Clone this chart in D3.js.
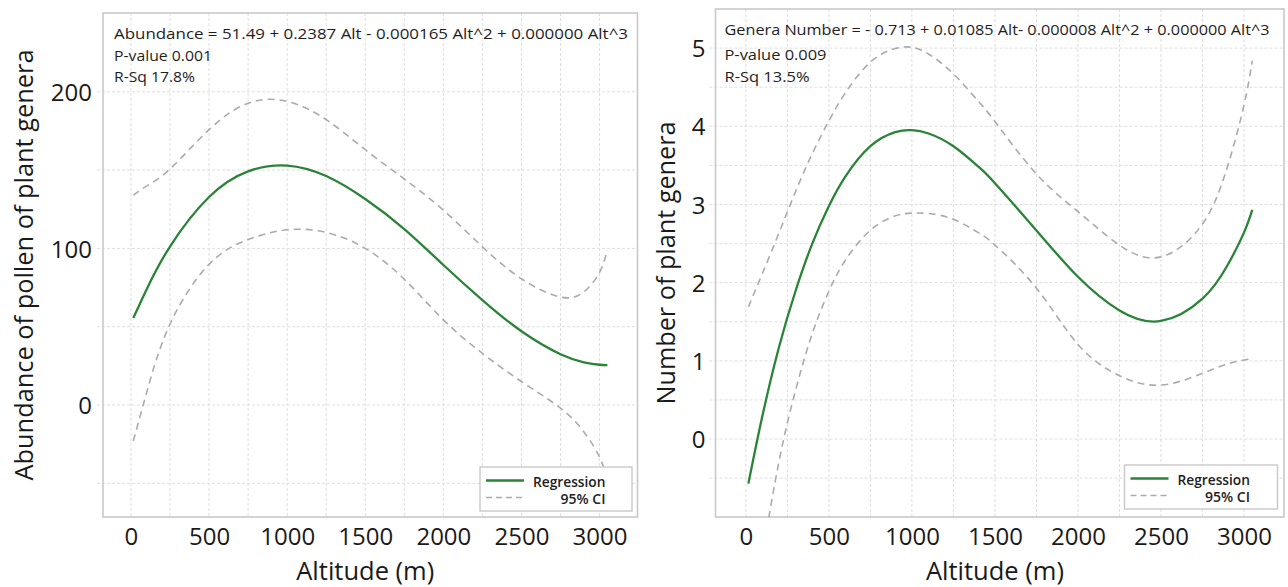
<!DOCTYPE html>
<html>
<head>
<meta charset="utf-8">
<script src="https://cdn.jsdelivr.net/npm/d3@7"></script>
<style>
  html, body { margin: 0; padding: 0; background: #fff; }
  svg { display: block; }
  text { font-family: "Open Sans", "DejaVu Sans", sans-serif; }
</style>
</head>
<body>
<svg id="chart" width="1288" height="587"></svg>
<script>
// ---------- DATA ----------
const leftAlt   = [15, 100, 250, 500, 750, 1000, 1250, 1500, 1750, 2000, 2250, 2500, 2750, 2900, 3000, 3050];
const leftReg   = [55.5, 73.8, 101.2, 132.8, 149.2, 152.9, 146.2, 131.5, 112.3, 89.4, 67, 47.1, 32.4, 27.3, 25.7, 25.5];
const leftUpper = [134, 139.8, 150.7, 175.8, 192.7, 193.9, 182.2, 163, 144.3, 124.4, 101, 80.6, 68.9, 72.3, 84.7, 99];
const leftLower = [-23, 7.8, 51.7, 89.8, 105.7, 111.9, 110.2, 100, 80.3, 54.4, 33, 15, -2, -17.2, -33.3, -48];

const rightAlt   = [15, 100, 200, 300, 400, 500, 600, 750, 900, 1000, 1100, 1250, 1400, 1500, 1750, 2000, 2250, 2500, 2750, 2900, 3000, 3050];
const rightReg   = [-0.57, 0.30, 1.18, 1.90, 2.50, 2.98, 3.36, 3.745, 3.925, 3.95, 3.908, 3.745, 3.484, 3.272, 2.668, 2.075, 1.645, 1.51, 1.795, 2.22, 2.64, 2.93];
const rightUpper = [1.69, 2.12, 2.64, 3.17, 3.65, 4.07, 4.43, 4.82, 4.995, 5.01, 4.925, 4.67, 4.32, 4.06, 3.39, 2.91, 2.48, 2.33, 2.75, 3.48, 4.27, 4.84];
const rightLower = [-2.83, -1.52, -0.28, 0.63, 1.35, 1.89, 2.29, 2.67, 2.855, 2.89, 2.885, 2.81, 2.64, 2.48, 1.93, 1.21, 0.81, 0.69, 0.84, 0.96, 1.01, 1.03];

const xTicks      = [0, 500, 1000, 1500, 2000, 2500, 3000];
const xGrid       = [0, 250, 500, 750, 1000, 1250, 1500, 1750, 2000, 2250, 2500, 2750, 3000];
const leftYTicks  = [0, 100, 200];
const leftYGrid   = [-50, 0, 50, 100, 150, 200];
const rightYTicks = [0, 1, 2, 3, 4, 5];
const rightYGrid  = [-0.5, 0, 0.5, 1, 1.5, 2, 2.5, 3, 3.5, 4, 4.5, 5];

const xTitle = "Altitude (m)";
const leftYTitle = "Abundance of pollen of plant genera";
const rightYTitle = "Number of plant genera";
const leftNotes = ["Abundance = 51.49 + 0.2387 Alt - 0.000165 Alt^2 + 0.000000 Alt^3", "P-value 0.001", "R-Sq 17.8%"];
const rightNotes = ["Genera Number = - 0.713 + 0.01085 Alt- 0.000008 Alt^2 + 0.000000 Alt^3", "P-value 0.009", "R-Sq 13.5%"];
const legendLabels = ["Regression", "95% CI"];

// ---------- DRAW ----------
const svg = d3.select("#chart");
const GREEN = "#2a8438";
const GRAY = "#ababab";

function panel(cfg) {
  const g = svg.append("g");
  const x = d3.scaleLinear().domain(cfg.xDomain).range([cfg.left, cfg.right]);
  const y = d3.scaleLinear().domain(cfg.yDomain).range([cfg.bottom, cfg.top]);
  const id = "clip" + cfg.name;
  svg.append("defs").append("clipPath").attr("id", id)
    .append("rect").attr("x", cfg.left).attr("y", cfg.top)
    .attr("width", cfg.right - cfg.left).attr("height", cfg.bottom - cfg.top);

  // grid
  g.append("g").selectAll("line").data(cfg.yGrid).join("line")
    .attr("x1", cfg.left - 6).attr("x2", cfg.right)
    .attr("y1", d => y(d)).attr("y2", d => y(d))
    .attr("stroke", "#dedede").attr("stroke-width", 1).attr("stroke-dasharray", "3,2");
  g.append("g").selectAll("line").data(xGrid).join("line")
    .attr("y1", cfg.top).attr("y2", cfg.bottom)
    .attr("x1", d => x(d)).attr("x2", d => x(d))
    .attr("stroke", "#dedede").attr("stroke-width", 1).attr("stroke-dasharray", "3,2");

  // axes via d3 axis (labels only)
  const xAxis = g.append("g").attr("transform", `translate(0,${cfg.bottom})`)
    .call(d3.axisBottom(x).tickValues(xTicks).tickSize(0).tickPadding(11).tickFormat(d3.format("d")));
  const yAxis = g.append("g").attr("transform", `translate(${cfg.left},0)`)
    .call(d3.axisLeft(y).tickValues(cfg.yTicks).tickSize(0).tickPadding(cfg.yPad).tickFormat(d3.format("d")));
  [xAxis, yAxis].forEach(a => {
    a.select(".domain").remove();
    a.selectAll("text").attr("font-size", 24).attr("fill", "#1a1a1a")
      .attr("font-family", "'Open Sans', sans-serif");
  });
  yAxis.selectAll("text").attr("dy", "0.36em");

  // frame
  g.append("rect").attr("x", cfg.left).attr("y", cfg.top)
    .attr("width", cfg.right - cfg.left).attr("height", cfg.bottom - cfg.top)
    .attr("fill", "none").attr("stroke", "#c9c9c9").attr("stroke-width", 1.6);

  // curves
  const line = d3.line().x(d => x(d[0])).y(d => y(d[1])).curve(d3.curveNatural);
  const curves = g.append("g").attr("clip-path", `url(#${id})`);
  curves.append("path").datum(d3.zip(cfg.alt, cfg.upper)).attr("d", line)
    .attr("fill", "none").attr("stroke", GRAY).attr("stroke-width", 1.6).attr("stroke-dasharray", "7,5");
  curves.append("path").datum(d3.zip(cfg.alt, cfg.lower)).attr("d", line)
    .attr("fill", "none").attr("stroke", GRAY).attr("stroke-width", 1.6).attr("stroke-dasharray", "7,5");
  curves.append("path").datum(d3.zip(cfg.alt, cfg.reg)).attr("d", line)
    .attr("fill", "none").attr("stroke", GREEN).attr("stroke-width", 2.3);

  // notes
  cfg.notes.forEach((t, i) => {
    g.append("text").attr("x", cfg.noteX).attr("y", cfg.noteY[i])
      .attr("font-size", 14.5).attr("fill", "#1e1e1e")
      .attr("textLength", cfg.noteW[i]).attr("lengthAdjust", "spacingAndGlyphs")
      .text(t);
  });

  // legend
  const L = cfg.legend;
  const lg = g.append("g");
  lg.append("rect").attr("x", L.x).attr("y", L.y).attr("width", L.w).attr("height", L.h)
    .attr("fill", "#fff").attr("stroke", "#c9c9c9").attr("stroke-width", 1.4);
  lg.append("line").attr("x1", L.x + 6).attr("x2", L.x + 44).attr("y1", L.y + 13.5).attr("y2", L.y + 13.5)
    .attr("stroke", GREEN).attr("stroke-width", 2.3);
  lg.append("line").attr("x1", L.x + 6).attr("x2", L.x + 44).attr("y1", L.y + 30.5).attr("y2", L.y + 30.5)
    .attr("stroke", GRAY).attr("stroke-width", 1.6).attr("stroke-dasharray", "6,4");
  lg.append("text").attr("x", L.x + 53).attr("y", L.y + 20)
    .attr("font-size", 13.5).attr("font-weight", 600).attr("fill", "#222")
    .attr("textLength", 72.5).attr("lengthAdjust", "spacingAndGlyphs").text(legendLabels[0]);
  lg.append("text").attr("x", L.x + 125.5).attr("y", L.y + 36.5).attr("text-anchor", "end")
    .attr("font-size", 13.5).attr("font-weight", 600).attr("fill", "#222")
    .attr("textLength", 45).attr("lengthAdjust", "spacingAndGlyphs").text(legendLabels[1]);

  // axis titles
  g.append("text").attr("x", (x(0) + x(3000)) / 2).attr("y", 580).attr("text-anchor", "middle")
    .attr("font-size", 25.5).attr("fill", "#1a1a1a").text(xTitle);
  g.append("text").attr("transform", `translate(${cfg.yTitleX},${cfg.yTitleY}) rotate(-90)`)
    .attr("text-anchor", "middle").attr("font-size", 25.5).attr("fill", "#1a1a1a")
    .attr("textLength", cfg.yTitleW).attr("lengthAdjust", "spacingAndGlyphs")
    .text(cfg.yTitle);
}

panel({
  name: "L", left: 103, right: 637.5, top: 13, bottom: 517,
  xDomain: [-179, 3243], yDomain: [-71.5, 250.3],
  yTicks: leftYTicks, yGrid: leftYGrid, yPad: 11,
  alt: leftAlt, reg: leftReg, upper: leftUpper, lower: leftLower,
  notes: leftNotes, noteX: 114, noteY: [39, 61, 82], noteW: [514, 98, 81],
  legend: { x: 480, y: 467, w: 152, h: 44 },
  yTitle: leftYTitle, yTitleX: 32.5, yTitleY: 265, yTitleW: 431
});

panel({
  name: "R", left: 715.5, right: 1284, top: 9, bottom: 517,
  xDomain: [-183, 3241], yDomain: [-0.997, 5.5],
  yTicks: rightYTicks, yGrid: rightYGrid, yPad: 10,
  alt: rightAlt, reg: rightReg, upper: rightUpper, lower: rightLower,
  notes: rightNotes, noteX: 724.5, noteY: [35, 60, 82], noteW: [545, 102, 85],
  legend: { x: 1124.5, y: 465, w: 153, h: 44 },
  yTitle: rightYTitle, yTitleX: 675, yTitleY: 263, yTitleW: 283
});
</script>
</body>
</html>
